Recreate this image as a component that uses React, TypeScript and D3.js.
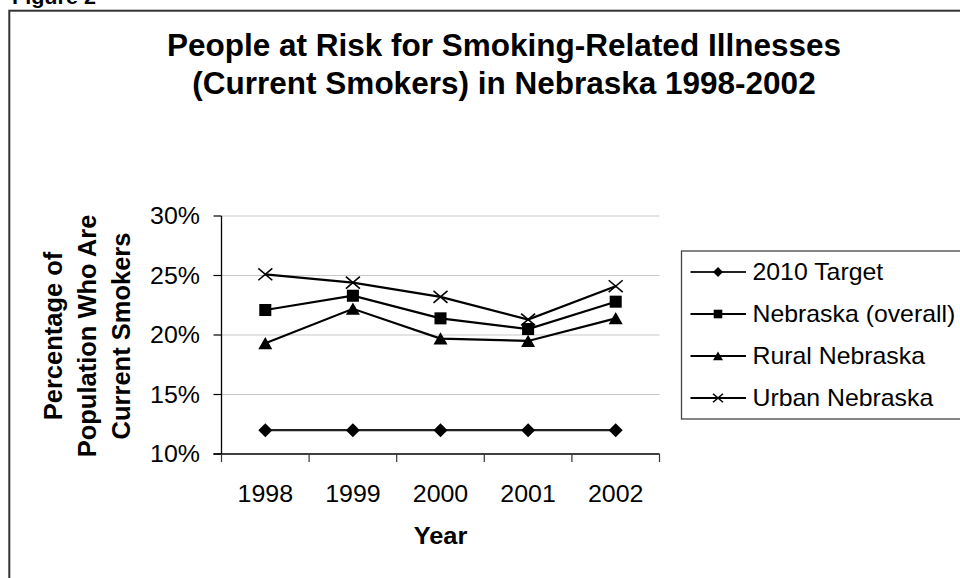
import React from "react";
import * as d3 from "d3";

const years = ["1998", "1999", "2000", "2001", "2002"];
const target2010 = [12, 12, 12, 12, 12];
const nebraskaOverall = [22.1, 23.3, 21.4, 20.5, 22.8];
const ruralNebraska = [19.3, 22.2, 19.7, 19.5, 21.4];
const urbanNebraska = [25.1, 24.4, 23.2, 21.3, 24.1];
const yTicks = [10, 15, 20, 25, 30];
const seriesNames = ["2010 Target", "Nebraska (overall)", "Rural Nebraska", "Urban Nebraska"];
const titleLines = ["People at Risk for Smoking-Related Illnesses", "(Current Smokers) in Nebraska 1998-2002"];
const yTitleLines = ["Percentage of", "Population Who Are", "Current Smokers"];

const FONT = "'Liberation Sans', Arial, Helvetica, sans-serif";
const SX = 1.08;

type MarkerKind = "diamond" | "square" | "triangle" | "x";

function Marker({ kind, x, y, s }: { kind: MarkerKind; x: number; y: number; s: number }) {
  if (kind === "diamond") {
    return <path d={`M${x},${y - s} L${x + s},${y} L${x},${y + s} L${x - s},${y} Z`} fill="#000" />;
  }
  if (kind === "square") {
    const h = s * 0.86;
    return <rect x={x - h} y={y - h} width={2 * h} height={2 * h} fill="#000" />;
  }
  if (kind === "triangle") {
    return <path d={`M${x},${y - s * 0.9} L${x + s},${y + s * 0.85} L${x - s},${y + s * 0.85} Z`} fill="#000" />;
  }
  return (
    <g stroke="#000" strokeWidth={1.6}>
      <line x1={x - s} y1={y - s * 0.85} x2={x + s} y2={y + s * 0.85} />
      <line x1={x - s} y1={y + s * 0.85} x2={x + s} y2={y - s * 0.85} />
    </g>
  );
}

function SText({
  x, y, children, size, bold = false, anchor = "start", sx = SX, rotate = 0, fill = "#000",
}: {
  x: number; y: number; children: React.ReactNode; size: number; bold?: boolean;
  anchor?: "start" | "middle" | "end"; sx?: number; rotate?: number; fill?: string;
}) {
  return (
    <text
      transform={`translate(${x},${y}) scale(${sx},1) rotate(${rotate})`}
      fontFamily={FONT}
      fontSize={size}
      fontWeight={bold ? "bold" : "normal"}
      textAnchor={anchor}
      fill={fill}
    >
      {children}
    </text>
  );
}

export default function App() {
  const W = 960;
  const H = 578;
  const plot = { left: 221.5, right: 659.5, top: 216, bottom: 454 };

  const x = d3.scaleBand<string>().domain(years).range([plot.left, plot.right]).padding(0);
  const y = d3.scaleLinear().domain([10, 30]).range([plot.bottom, plot.top]);
  const cx = (yr: string) => (x(yr) as number) + x.bandwidth() / 2;

  const series: { name: string; values: number[]; kind: MarkerKind; color: string }[] = [
    { name: seriesNames[0], values: target2010, kind: "diamond", color: "#222" },
    { name: seriesNames[1], values: nebraskaOverall, kind: "square", color: "#000" },
    { name: seriesNames[2], values: ruralNebraska, kind: "triangle", color: "#000" },
    { name: seriesNames[3], values: urbanNebraska, kind: "x", color: "#000" },
  ];

  const line = d3
    .line<number>()
    .x((_, i) => cx(years[i]))
    .y((v) => y(v));

  const boundaries = [...years.map((yr) => x(yr) as number), plot.right];

  const legend = { left: 681.5, top: 251, bottom: 419, rowStart: 272, rowStep: 42 };

  return (
    <svg width={W} height={H} style={{ position: "absolute", left: 0, top: 0, background: "#fff" }}>
      <rect x={0} y={0} width={W} height={H} fill="#fff" />
      {/* Figure caption cut at top */}
      <SText x={12} y={3.5} size={20} bold>Figure 2</SText>
      {/* outer chart border */}
      <rect x={9.3} y={10.7} width={1100} height={700} fill="none" stroke="#333" strokeWidth={2} />

      {/* Title */}
      {titleLines.map((t, i) => (
        <SText key={t} x={504} y={56 + i * 38} size={31.5} sx={1.0} bold anchor="middle">{t}</SText>
      ))}

      {/* gridlines */}
      {yTicks.filter((t) => t > 10).map((t) => (
        <line key={t} x1={plot.left} x2={plot.right} y1={y(t)} y2={y(t)} stroke="#c8c8c8" strokeWidth={1.2} />
      ))}

      {/* series */}
      {series.map((s) => (
        <g key={s.name}>
          <path d={line(s.values) || ""} fill="none" stroke={s.color} strokeWidth={2.2} />
          {s.values.map((v, i) => (
            <Marker key={i} kind={s.kind} x={cx(years[i])} y={y(v)} s={7} />
          ))}
        </g>
      ))}

      {/* y axis */}
      <line x1={plot.left} x2={plot.left} y1={plot.top} y2={plot.bottom} stroke="#000" strokeWidth={1.3} />
      {yTicks.map((t) => (
        <g key={t}>
          <line x1={plot.left - 8} x2={plot.left} y1={y(t)} y2={y(t)} stroke="#000" strokeWidth={1.2} />
          <SText x={200} y={y(t) + 8} size={23.1} anchor="end">{`${t}%`}</SText>
        </g>
      ))}

      {/* x axis */}
      <line x1={plot.left - 8} x2={plot.right} y1={plot.bottom} y2={plot.bottom} stroke="#000" strokeWidth={1.3} />
      {boundaries.map((b, i) => (
        <line key={i} x1={b} x2={b} y1={plot.bottom} y2={plot.bottom + 8} stroke="#333" strokeWidth={1.2} />
      ))}
      {years.map((yr) => (
        <SText key={yr} x={cx(yr)} y={502} size={23.1} anchor="middle">{yr}</SText>
      ))}

      {/* axis titles */}
      <SText x={(plot.left + plot.right) / 2} y={544} size={23.5} bold anchor="middle">Year</SText>
      {yTitleLines.map((t, i) => (
        <SText key={t} x={62 + i * 34} y={336} size={25.5} bold anchor="middle" sx={1} rotate={-90}>{t}</SText>
      ))}

      {/* legend */}
      <rect x={legend.left} y={legend.top} width={400} height={legend.bottom - legend.top} fill="#fff" stroke="#444" strokeWidth={1.3} />
      {series.map((s, i) => {
        const ry = legend.rowStart + i * legend.rowStep;
        return (
          <g key={s.name}>
            <line x1={690.5} x2={746} y1={ry} y2={ry} stroke={s.color} strokeWidth={1.8} />
            <Marker kind={s.kind} x={718} y={ry} s={5} />
            <SText x={752.5} y={ry + 8} size={23}>{s.name}</SText>
          </g>
        );
      })}
    </svg>
  );
}
